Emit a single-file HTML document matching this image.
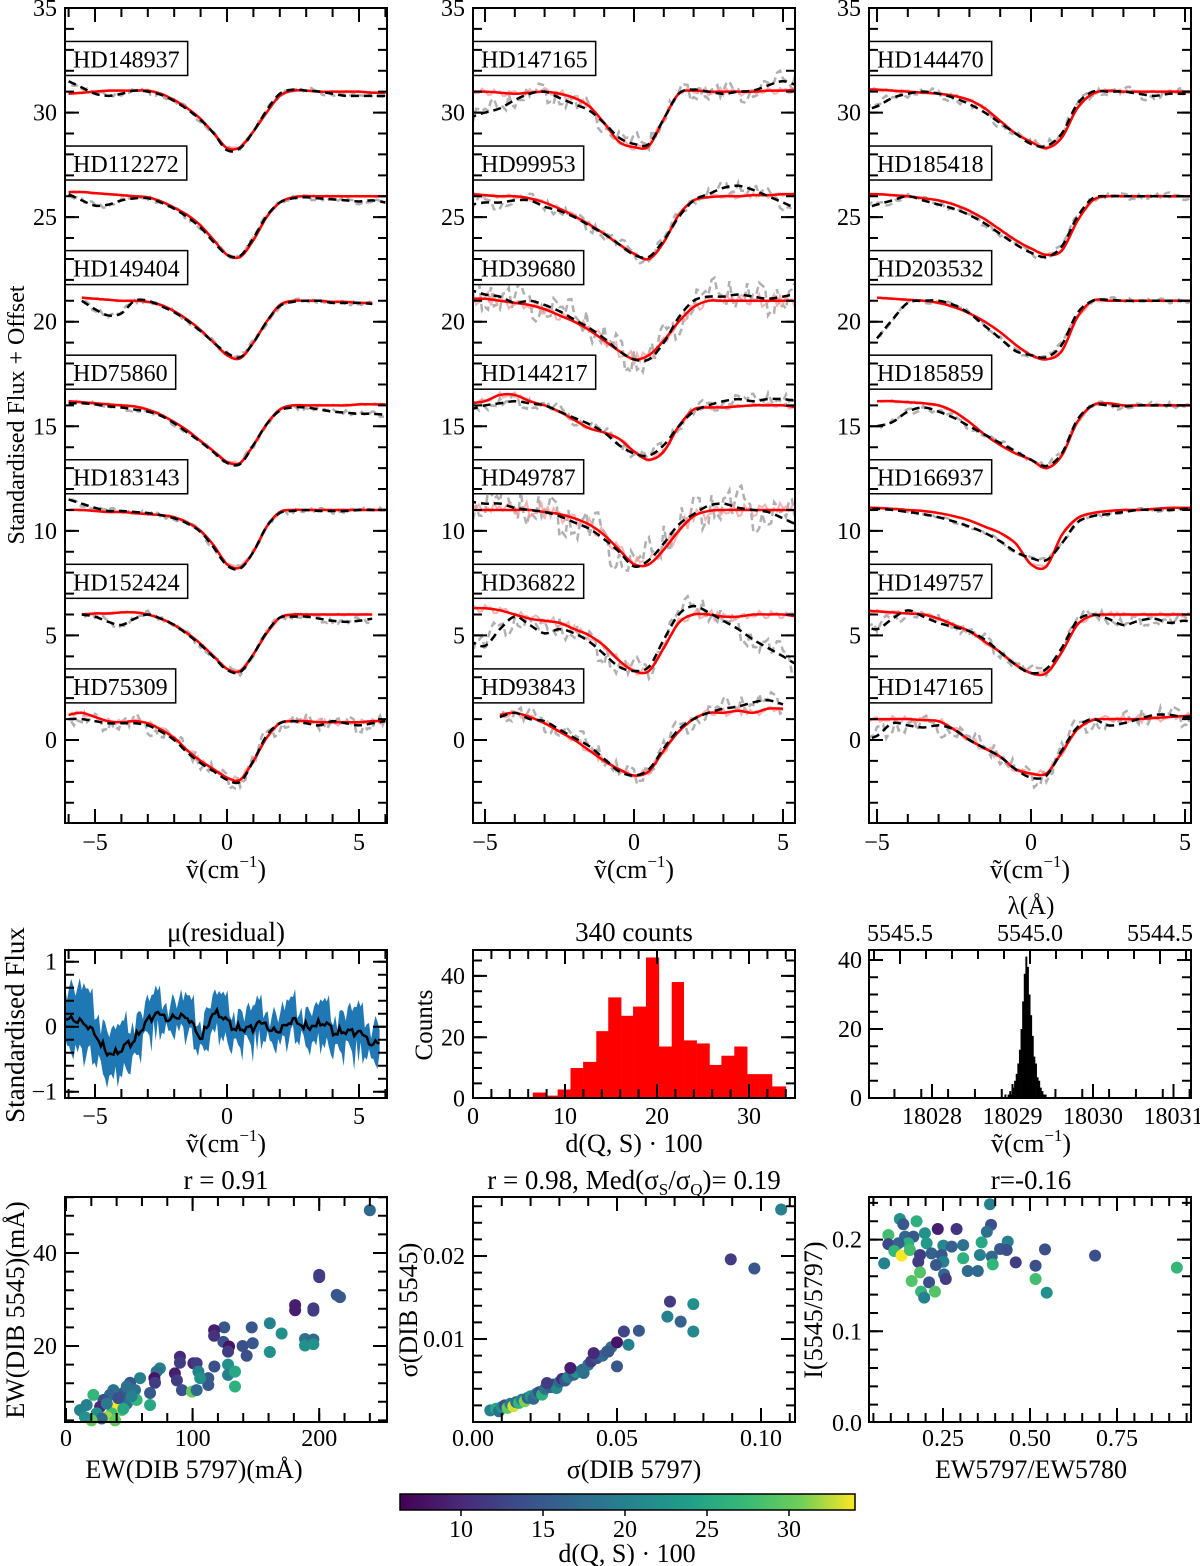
<!DOCTYPE html>
<html><head><meta charset="utf-8">
<style>
html,body{margin:0;padding:0;background:#fff;}
svg{display:block;font-family:"Liberation Serif",serif;}
</style></head>
<body>
<svg id="fig" width="1200" height="1566" viewBox="0 0 1200 1566" xmlns="http://www.w3.org/2000/svg">
<defs>
<linearGradient id="viridis" x1="0" x2="1" y1="0" y2="0">
<stop offset="0" stop-color="#440154"/><stop offset="0.13" stop-color="#482878"/><stop offset="0.25" stop-color="#3e4989"/><stop offset="0.38" stop-color="#31688e"/><stop offset="0.5" stop-color="#26828e"/><stop offset="0.63" stop-color="#1f9e89"/><stop offset="0.75" stop-color="#35b779"/><stop offset="0.88" stop-color="#6ece58"/><stop offset="1" stop-color="#fde725"/>
</linearGradient>
</defs>
</svg>
<script>
// ---------- DATA ----------
const xs=[-6,-5.5,-5,-4.5,-4,-3.5,-3,-2.5,-2,-1.5,-1,-0.5,0,0.5,1,1.5,2,2.5,3,3.5,4,4.5,5,5.5,6];
const offsets=[31,26,21,16,11,6,1];
const names1=["HD148937","HD112272","HD149404","HD75860","HD183143","HD152424","HD75309"];
const names2=["HD147165","HD99953","HD39680","HD144217","HD49787","HD36822","HD93843"];
const names3=["HD144470","HD185418","HD203532","HD185859","HD166937","HD149757","HD147165"];
const red1=[
[-0.1,-0.05,0,0.05,0.05,0.05,0.05,-0.1,-0.4,-0.8,-1.3,-2.0,-2.7,-2.65,-1.9,-1.0,-0.2,0.05,0.05,0,0,0,0,-0.05,-0.05],
[0.2,0.2,0.15,0.1,0.05,0,-0.05,-0.25,-0.55,-0.9,-1.4,-2.1,-2.8,-2.9,-2.1,-1.0,-0.3,-0.05,0,0,0,0,0,0,0],
[null,0.15,0.1,0.05,0,0,-0.05,-0.2,-0.5,-0.9,-1.4,-2.0,-2.6,-2.75,-2.0,-1.0,-0.2,0,0,0,-0.05,-0.05,-0.1,-0.1,null],
[0.2,0.15,0.1,0.05,0,-0.05,-0.2,-0.45,-0.8,-1.2,-1.7,-2.2,-2.7,-2.75,-1.9,-0.9,-0.2,0,0,0,0,0,0.05,0.05,0.05],
[0,0,-0.05,-0.1,-0.1,-0.15,-0.2,-0.25,-0.35,-0.6,-1.0,-1.7,-2.6,-2.75,-2.0,-0.8,-0.1,0,0,0,0,0,0,0,0],
[null,0,0.05,0.05,0.1,0.1,0,-0.2,-0.5,-0.9,-1.4,-2.0,-2.6,-2.7,-1.9,-0.9,-0.15,0,0,0,0,0,0,0,null],
[0.2,0.3,0.1,-0.1,-0.15,-0.1,-0.2,-0.5,-0.9,-1.5,-2.0,-2.4,-2.8,-2.9,-2.0,-0.9,-0.2,-0.1,-0.1,-0.15,-0.15,-0.15,-0.15,-0.1,-0.1]];
const black1=[
[0.5,0.2,-0.1,-0.2,-0.1,0.05,0,-0.15,-0.45,-0.85,-1.35,-2.0,-2.8,-2.7,-1.9,-0.9,-0.1,0.1,0.05,0,-0.1,-0.2,-0.2,-0.2,-0.2],
[0.1,-0.2,-0.45,-0.4,-0.2,-0.1,-0.1,-0.3,-0.6,-1.0,-1.5,-2.2,-2.8,-2.85,-2.0,-0.95,-0.3,-0.1,-0.05,-0.1,-0.15,-0.2,-0.25,-0.2,-0.3],
[null,0,-0.4,-0.7,-0.6,0,0,-0.25,-0.55,-0.95,-1.45,-2.0,-2.5,-2.7,-2.0,-1.0,-0.25,-0.05,0,0,-0.1,-0.1,-0.1,-0.15,null],
[0.1,0.1,0.05,-0.05,-0.1,-0.2,-0.3,-0.5,-0.85,-1.3,-1.75,-2.25,-2.75,-2.8,-1.9,-0.9,-0.25,-0.1,-0.1,-0.2,-0.3,-0.35,-0.4,-0.4,-0.45],
[0.5,0.3,0.1,-0.05,-0.05,-0.1,-0.15,-0.25,-0.4,-0.65,-1.05,-1.8,-2.65,-2.8,-2.0,-0.8,-0.15,-0.05,0,-0.05,-0.05,-0.05,0,0,0],
[null,0,-0.1,-0.35,-0.5,-0.2,0,-0.2,-0.5,-0.95,-1.45,-2.05,-2.65,-2.75,-1.9,-0.85,-0.15,-0.1,-0.1,-0.2,-0.3,-0.35,-0.3,-0.2,null],
[0,0,-0.1,-0.2,-0.2,-0.2,-0.3,-0.6,-1.0,-1.6,-2.1,-2.5,-2.9,-3.0,-2.0,-0.8,-0.2,-0.1,-0.2,-0.3,-0.1,-0.2,-0.3,-0.2,-0.1]];
const red2=[
[0,0,0,-0.05,-0.1,-0.05,0,-0.1,-0.3,-0.7,-1.5,-2.4,-2.65,-2.6,-1.3,-0.1,0.05,0,0,0,0,0.05,0.05,0.1,0.1],
[0.1,0.1,0.05,0,0,-0.1,-0.3,-0.6,-0.95,-1.35,-1.8,-2.3,-2.75,-3.0,-2.2,-0.9,-0.2,-0.05,0,0,0.05,0.05,0.1,0.1,0.1],
[0.1,0.1,0.1,0,-0.1,-0.2,-0.4,-0.7,-1.0,-1.4,-1.9,-2.4,-2.8,-2.6,-1.9,-1.0,-0.3,0,0,0,0,0,0,0,0],
[null,0.1,0.2,0.5,0.5,0.2,0,-0.3,-0.7,-1.1,-1.3,-1.6,-2.2,-2.6,-2.2,-1.0,-0.2,-0.1,-0.1,-0.05,0,0,0,-0.1,null],
[0,0,0,0,0,0,-0.1,-0.2,-0.4,-0.7,-1.2,-1.9,-2.6,-2.6,-1.9,-1.0,-0.3,-0.05,0,0,0,0,0,0,0],
[0.3,0.3,0.3,0.2,0,-0.2,-0.3,-0.4,-0.7,-1.0,-1.5,-2.2,-2.7,-2.7,-1.6,-0.4,0,0,-0.1,-0.1,0,0,0,-0.1,-0.1],
[null,null,null,0.2,0.3,0.1,-0.2,-0.6,-1.0,-1.5,-2.0,-2.4,-2.7,-2.5,-1.5,-0.6,0,0.3,0.3,0.4,0.3,0.5,0.5,null,null]];
const black2=[
[-1.2,-1.2,-1,-0.8,-0.4,-0.1,0,-0.3,-0.6,-0.9,-1.5,-2.2,-2.5,-2.5,-1.3,-0.1,0.1,0,-0.1,0,0.05,0.3,0.5,0.3,0.3],
[-0.4,-0.4,-0.3,-0.3,-0.2,-0.2,-0.5,-0.7,-1.0,-1.4,-1.8,-2.3,-2.8,-2.9,-2.1,-1.0,-0.2,0.1,0.4,0.5,0.3,0,-0.3,-0.6,-0.7],
[0.5,0.5,0.3,0.2,-0.1,0,-0.2,-0.5,-0.9,-1.3,-1.8,-2.4,-2.8,-2.8,-2.0,-0.8,0,0.2,0.2,0.3,0.2,0.1,0.2,0.3,0],
[null,-0.2,0,0.1,0.2,0.1,0,-0.3,-0.6,-0.9,-1.3,-1.9,-2.3,-2.4,-1.9,-1.0,-0.3,0,0.2,0.3,0.2,0.3,0.3,0.2,null],
[0.5,0.4,0.3,0.3,0.1,0,-0.1,-0.3,-0.6,-0.9,-1.4,-2.0,-2.7,-2.4,-1.6,-0.7,-0.2,0.2,0.3,0.1,0,-0.1,-0.4,-0.7,-0.7],
[-1.3,-1.3,-1.5,-0.7,-0.1,-0.5,-0.9,-0.7,-0.9,-1.3,-1.9,-2.5,-2.7,-2.5,-1.2,0,0.4,0.1,-0.3,-0.7,-1.2,-1.6,-2.0,-2.4,-2.5],
[null,null,null,0.1,0.3,0,-0.1,-0.5,-0.9,-1.3,-1.9,-2.5,-2.7,-2.4,-1.4,-0.5,0,0.3,0.5,0.6,0.8,0.9,0.7,null,null]];
const red3=[
[0.1,0.1,0.1,0.05,0,-0.05,-0.1,-0.2,-0.4,-0.8,-1.4,-2.0,-2.4,-2.7,-2.2,-0.8,-0.1,0.05,0,0,0,0,0,0,0],
[0.1,0.1,0.1,0.05,0,-0.1,-0.2,-0.4,-0.7,-1.1,-1.6,-2.1,-2.5,-2.8,-2.6,-1.2,-0.2,0,0,0,0,0,0,0,0],
[null,null,0.15,0.1,0.05,0,-0.1,-0.3,-0.6,-1.0,-1.5,-2.1,-2.6,-2.8,-2.4,-0.8,0,0,0,0,0,0,0,0,null],
[null,null,0.2,0.2,0.15,0.1,0,-0.3,-0.8,-1.4,-1.9,-2.3,-2.6,-3.0,-2.4,-0.8,0,0.1,0,0,0,0,0,0,null],
[0.1,0.1,0.1,0.05,0,-0.05,-0.15,-0.3,-0.5,-0.8,-1.1,-1.6,-2.6,-2.7,-1.2,-0.4,-0.15,-0.05,0,0,0.05,0.1,0.1,0.1,0.1],
[0.2,0.2,0.15,0.1,0.05,0,-0.2,-0.5,-0.8,-1.3,-1.8,-2.4,-2.8,-2.8,-1.8,-0.5,-0.05,0,0,0,0,0,0,0,0],
[0,0,0,0,0,-0.05,-0.1,-0.5,-1.0,-1.4,-1.8,-2.4,-2.6,-2.6,-1.6,-0.5,-0.05,0,0,0,0.05,0.1,0.15,0.15,0.15]];
const black3=[
[-0.9,-0.9,-0.7,-0.3,-0.1,0,-0.1,-0.3,-0.6,-1.0,-1.5,-2.0,-2.5,-2.6,-2.0,-0.6,0,0,0,-0.1,-0.2,-0.1,-0.1,0,0],
[-0.6,-0.6,-0.4,-0.2,0,-0.2,-0.4,-0.6,-0.9,-1.3,-1.8,-2.3,-2.7,-2.9,-2.4,-1.0,-0.1,0,0,0,0,0,0,0,0],
[null,null,-1.8,-0.9,-0.1,0,0,-0.2,-0.6,-1.2,-1.8,-2.4,-2.6,-2.7,-2.1,-0.6,0,0.05,0,0,0,0,0,0,null],
[null,null,-1.0,-0.8,-0.3,-0.1,-0.3,-0.6,-1.0,-1.4,-1.8,-2.2,-2.6,-2.9,-2.3,-0.7,0,0,-0.05,0,0,0,0,0,null],
[0.05,0.05,0.05,0,-0.1,-0.2,-0.35,-0.55,-0.8,-1.1,-1.5,-2.0,-2.3,-2.4,-1.6,-0.6,-0.3,-0.2,-0.1,0,0,0,0.05,0.1,0.1],
[-0.5,-0.5,-0.7,-0.2,0.2,-0.1,-0.4,-0.6,-0.8,-1.2,-1.8,-2.4,-2.8,-2.6,-1.6,-0.3,0,-0.2,-0.5,-0.3,-0.2,-0.4,-0.3,-0.5,-0.6],
[-1.0,-1.0,-0.8,-0.2,-0.3,-0.4,-0.3,-0.5,-1.0,-1.4,-1.8,-2.4,-2.8,-2.7,-1.5,-0.4,0,-0.3,-0.2,0,0.2,0.2,0.1,0.2,0.3]];
const noiseAmp1=[0.15,0.15,0.15,0.15,0.15,0.2,0.5];
const noiseAmp2=[0.6,0.4,1.0,0.4,1.2,0.7,0.6];
const noiseAmp3=[0.3,0.2,0.15,0.2,0.1,0.4,0.6];
const noise=[0.3,-0.5,0.8,-0.2,0.1,-0.7,0.6,0.2,-0.4,0.9,-0.6,0.1,0.4,-0.3,-0.8,0.5,0.2,-0.1,0.7,-0.5,0.3,-0.9,0.4,0.1,-0.2,0.6,-0.4,0.8,-0.7,0.2,0.0,-0.3,0.5,-0.6,0.9,-0.1,0.3,-0.4,0.6,-0.8,0.2,0.4,-0.5,0.1,0.7,-0.2,-0.6,0.3];
const resMean=[0.2,0.05,-0.15,-0.4,-0.4,-0.15,0.1,0.15,0.2,0.1,-0.2,0.25,0.05,0.0,-0.05,0.05,-0.05,0.05,0.0,0.05,-0.05,-0.05,-0.15,-0.2,-0.2];
const resSig=[0.5,0.5,0.4,0.35,0.3,0.3,0.25,0.25,0.25,0.25,0.25,0.25,0.25,0.25,0.25,0.25,0.25,0.25,0.25,0.25,0.25,0.3,0.3,0.3,0.3];
const histEdges=[6.5,7.9,9.2,10.6,11.97,13.4,14.7,16.1,17.4,18.8,20.2,21.6,22.9,24.3,25.7,27.0,28.4,29.8,31.1,32.5,34.0];
const histCounts=[2,1,3,10,12,22,33,27,30,46,17,38,19,18,11,14,17,8,8,4];
const peakStart=18028.90, peakWidth=0.02;
const peakCounts=[1,0,1,2,1,3,5,7,10,14,20,28,36,41,38,30,24,18,12,10,6,5,3,2,1,1];
const sc1=[[240,49.2,17],[200,35.3,12],[200,34.8,12],[213.8,31,15],[216.4,30.5,15],[181,28.8,9],[181,27.7,9],[195.4,28.1,12],[195.4,27.6,12],[161,24.9,20],[170.3,22.7,22],[146.7,24,15],[125,24,15],[117,23.4,9],[117,22.2,11],[124.3,20.9,14],[128.8,19.9,8],[128,18.8,12],[139.5,20,14],[147.5,20.6,15],[142.7,17.9,14],[161,18.7,22],[188.8,21.5,18],[188.8,20.1,22],[195.4,21.4,17],[195.4,20.4,22],[117.2,15.6,14],[128,16,22],[128,13.8,20],[133.5,14.5,25],[133.5,11.3,26],[112.4,13.1,15],[112.4,11.6,15],[100.6,16.3,10],[103.2,16.3,12],[90,17.7,10],[90,16.4,12],[86,14.1,9],[87.6,12.6,12],[91.6,10.5,14],[99.5,10.2,30],[103.2,10.5,17],[104.6,14.5,20],[106,13.1,22],[74.2,15.2,20],[71.6,14.5,18],[69.8,13.1,8],[70.3,12.1,12],[66.4,9.9,15],[66.4,7.3,25],[58.5,13.1,20],[50.6,12.1,15],[54.5,10.5,18],[45.3,9.9,15],[37.4,10.5,18],[34.7,9.5,17],[29.5,8.4,14],[26.9,6.9,10],[21.6,9.5,27],[16.3,7.3,20],[11.1,6.2,20],[48,7.6,18],[44,6.2,30],[40,6.9,34],[36.1,5.5,28],[32.2,4.7,32],[24.2,5.5,22],[28.2,4.4,17],[38.8,4,30],[45.3,6.5,25],[55.8,8.4,27],[51.8,9.2,20],[41.3,8.8,14],[20.2,4,30],[15,4.7,22],[32.2,7.6,19],[48,11.3,18]];
const sc2=[[0.006,0.0014,20],[0.008,0.0016,25],[0.009,0.0013,18],[0.010,0.0018,22],[0.011,0.0020,14],[0.012,0.0017,30],[0.013,0.0022,19],[0.014,0.0019,33],[0.015,0.0024,18],[0.016,0.0023,27],[0.017,0.0027,20],[0.018,0.0025,31],[0.019,0.0029,16],[0.020,0.0031,23],[0.021,0.0028,17],[0.022,0.0034,19],[0.023,0.0036,14],[0.024,0.0033,26],[0.025,0.0040,18],[0.027,0.0042,16],[0.028,0.0045,12],[0.029,0.0041,21],[0.030,0.0048,17],[0.031,0.0052,10],[0.032,0.0050,15],[0.033,0.0054,20],[0.035,0.0057,16],[0.036,0.0060,22],[0.038,0.0063,17],[0.040,0.0069,18],[0.041,0.0073,12],[0.043,0.0077,14],[0.045,0.0080,17],[0.048,0.0090,18],[0.047,0.0085,15],[0.107,0.0256,20],[0.0895,0.0196,12],[0.0977,0.0185,15],[0.0684,0.0145,12],[0.0765,0.0142,22],[0.0675,0.0127,20],[0.0721,0.0121,16],[0.0765,0.0109,21],[0.0576,0.0110,15],[0.0524,0.0109,13],[0.050,0.0096,8],[0.054,0.0093,20],[0.0466,0.0085,15],[0.050,0.0067,15],[0.0419,0.0083,10],[0.0338,0.0065,9],[0.0384,0.0059,18],[0.0257,0.0047,12]];
const sc3=[[0.385,0.2385,20],[0.126,0.2225,22],[0.136,0.2167,15],[0.174,0.220,26],[0.235,0.2116,9],[0.289,0.2116,11],[0.388,0.216,14],[0.376,0.2086,18],[0.093,0.205,28],[0.093,0.195,13],[0.198,0.2069,22],[0.141,0.2032,17],[0.165,0.2032,15],[0.203,0.196,23],[0.150,0.196,26],[0.122,0.196,16],[0.251,0.1934,21],[0.275,0.1923,16],[0.308,0.194,18],[0.361,0.197,25],[0.436,0.1978,20],[0.414,0.1898,15],[0.433,0.1887,14],[0.543,0.1894,14],[0.687,0.1825,14],[0.110,0.1876,27],[0.131,0.1825,34],[0.155,0.1887,28],[0.184,0.1832,12],[0.217,0.185,16],[0.246,0.1832,15],[0.308,0.1796,26],[0.356,0.1832,20],[0.390,0.1814,17],[0.081,0.1741,20],[0.179,0.1759,12],[0.251,0.1759,20],[0.230,0.1723,15],[0.393,0.173,27],[0.459,0.1752,12],[0.516,0.1715,14],[0.922,0.1694,27],[0.184,0.1643,29],[0.321,0.1657,17],[0.350,0.1657,17],[0.253,0.1621,17],[0.258,0.157,12],[0.210,0.1534,14],[0.160,0.1549,29],[0.516,0.157,28],[0.187,0.1432,27],[0.227,0.1432,29],[0.196,0.1367,20],[0.548,0.1421,22]];
const cbTicks=[10,15,20,25,30];

// ---------- HELPERS ----------
const NS='http://www.w3.org/2000/svg';
const svg=document.getElementById('fig');
function mk(tag,attrs,parent){const e=document.createElementNS(NS,tag);for(const k in attrs)e.setAttribute(k,attrs[k]);(parent||svg).appendChild(e);return e;}
function lin(d0,d1,r0,r1){return v=>r0+(v-d0)*(r1-r0)/(d1-d0);}
function fmtNum(v){return String(v).replace('-','−');}
function label(x,y,s,anchor,size,name,rot){
  const t=mk('text',{x:x,y:y,'text-anchor':anchor||'middle','font-size':size||24,fill:'#000'});
  if(rot)t.setAttribute('transform','rotate(-90 '+x+' '+y+')');
  t.innerHTML=s;
  
  
  return t;
}
const NU='ṽ(cm<tspan dy="-11" font-size="17">−1</tspan><tspan dy="11">)</tspan>';
let clipId=0;
function panel(name,x0,y0,w,h){
  const g=mk('g',{});
  
  
  const cp=mk('clipPath',{id:'c'+(++clipId)},svg.querySelector('defs'));
  mk('rect',{x:x0,y:y0,width:w,height:h},cp);
  const inner=mk('g',{'clip-path':'url(#c'+clipId+')'},g);
  return {g:g,inner:inner,x0:x0,y0:y0,w:w,h:h};
}
function frame(P){
  const r=mk('rect',{x:P.x0,y:P.y0,width:P.w,height:P.h,fill:'none',stroke:'#000','stroke-width':2},P.g);
  
  
}
function ticksX(P,X,vals,len,bottom,top){
  let d='';
  vals.forEach(v=>{const x=X(v);if(x<P.x0-0.5||x>P.x0+P.w+0.5)return;
    if(bottom)d+='M'+x+' '+(P.y0+P.h)+'v'+(-len);
    if(top)d+='M'+x+' '+P.y0+'v'+len;});
  const p=mk('path',{d:d,stroke:'#000','stroke-width':2,fill:'none'},P.g);
  
  
}
function ticksY(P,Y,vals,len){
  let d='';
  vals.forEach(v=>{const y=Y(v);if(y<P.y0-0.5||y>P.y0+P.h+0.5)return;
    d+='M'+P.x0+' '+y+'h'+len+'M'+(P.x0+P.w)+' '+y+'h'+(-len);});
  const p=mk('path',{d:d,stroke:'#000','stroke-width':2,fill:'none'},P.g);
  
  
}
function range(a,b,s){const r=[];for(let v=a;v<=b+1e-9;v+=s)r.push(Math.round(v*1e6)/1e6);return r;}
function smoothPath(pts){
  let d='';let seg=[];
  const flush=()=>{if(seg.length>1){d+='M'+seg[0][0]+' '+seg[0][1];
    for(let i=0;i<seg.length-1;i++){const p0=seg[Math.max(0,i-1)],p1=seg[i],p2=seg[i+1],p3=seg[Math.min(seg.length-1,i+2)];
      d+='C'+(p1[0]+(p2[0]-p0[0])/6)+' '+(p1[1]+(p2[1]-p0[1])/6)+' '+(p2[0]-(p3[0]-p1[0])/6)+' '+(p2[1]-(p3[1]-p1[1])/6)+' '+p2[0]+' '+p2[1];}}
    seg=[];};
  pts.forEach(p=>{if(p)seg.push(p);else flush();});flush();return d;
}
function interp(arr,x){
  const f=(x-xs[0])/0.5;const i=Math.floor(f);if(i<0||i>=arr.length-1)return (i===arr.length-1&&arr[i]!=null)?arr[i]:null;
  const a=arr[i],b=arr[i+1];if(a==null||b==null)return null;return a+(b-a)*(f-i);
}
function interpClamp(arr,x){return interp(arr,Math.max(-6,Math.min(6,x)));}
function viridis(d){
  const t=Math.max(0,Math.min(1,(d-6.3)/(34-6.3)));
  const st=[[0,[68,1,84]],[0.13,[72,40,120]],[0.25,[62,73,137]],[0.38,[49,104,142]],[0.5,[38,130,142]],[0.63,[31,158,137]],[0.75,[53,183,121]],[0.88,[110,206,88]],[1,[253,231,37]]];
  for(let i=0;i<st.length-1;i++){if(t<=st[i+1][0]){const u=(t-st[i][0])/(st[i+1][0]-st[i][0]);const c=st[i][1].map((v,k)=>Math.round(v+(st[i+1][1][k]-v)*u));return 'rgb('+c.join(',')+')';}}
  return 'rgb(253,231,37)';
}

// ---------- TOP ROW: SPECTRA ----------
const colX=[65,473,869];
const specDefs=[
 {X:lin(0,5,227,359),names:names1,red:red1,black:black1,amp:noiseAmp1},
 {X:lin(0,5,634,783),names:names2,red:red2,black:black2,amp:noiseAmp2},
 {X:lin(0,5,1031,1185),names:names3,red:red3,black:black3,amp:noiseAmp3}];
const Ys=lin(0,35,740,8);
specDefs.forEach((S,c)=>{
  const P=panel('spectra-panel-'+(c+1),colX[c],8,322,815);
  S.names.forEach((nm,k)=>{
    const off=offsets[k];
    let gp=[],pp=[];
    let i=0;
    for(let x=-6.2;x<=6.2;x+=0.1,i++){
      const b=interp(S.black[k],x),r=interp(S.red[k],x);
      gp.push(b==null?null:[S.X(x),Ys(off+b+noise[(i*7+k*5)%48]*S.amp[k])]);
      pp.push(r==null?null:[S.X(x),Ys(off+r+noise[(i*5+k*3+11)%48]*S.amp[k]*0.35)]);
    }
    const lineD=pts=>{let d='',pen=false;pts.forEach(p=>{if(!p){pen=false;return;}d+=(pen?'L':'M')+p[0].toFixed(1)+' '+p[1].toFixed(1);pen=true;});return d;};
    const g1=mk('path',{d:lineD(gp),fill:'none',stroke:'#b0b0b0','stroke-width':2.5,'stroke-dasharray':'7,4'},P.inner);
    
    
    const g2=mk('path',{d:lineD(pp),fill:'none',stroke:'#f4a0a0','stroke-width':2,opacity:0.8},P.inner);
    
    
    const rp=xs.map((x,j)=>S.red[k][j]==null?null:[S.X(x),Ys(off+S.red[k][j])]);
    const bp=xs.map((x,j)=>S.black[k][j]==null?null:[S.X(x),Ys(off+S.black[k][j])]);
    const r1=mk('path',{d:smoothPath(rp),fill:'none',stroke:'#ff0000','stroke-width':2.5},P.inner);
    
    
    const b1=mk('path',{d:smoothPath(bp),fill:'none',stroke:'#000','stroke-width':2.5,'stroke-dasharray':'8,5'},P.inner);
    
    
    const by=Ys(off+2.4);
    const t=mk('text',{x:P.x0+8,y:by+26,'font-size':24,fill:'#000'},P.g);
    t.textContent=nm;
    
    
    const tw=t.getComputedTextLength();
    const bx=mk('rect',{x:P.x0,y:by,width:tw+16,height:34,fill:'#fff',stroke:'#000','stroke-width':1.5},P.g);
    
    
    P.g.appendChild(t);
  });
  frame(P);
  ticksX(P,S.X,range(-6,6,1),9,true,true);
  ticksX(P,S.X,[-5,0,5],14,true,true);
  ticksY(P,Ys,range(-4,35,1),9);
  ticksY(P,Ys,range(0,35,5),14);
  [-5,0,5].forEach(v=>label(S.X(v),850,fmtNum(v),'middle',24,'x-tick-label'));
  range(0,35,5).forEach(v=>label(colX[c]-8,Ys(v)+8,String(v),'end',24,'y-tick-label'));
  label(colX[c]+161,878,NU,'middle',26,'x-axis-title');
});
label(24,415,'Standardised Flux + Offset','middle',24,'y-axis-title',true);

// ---------- MIDDLE ROW ----------
{
  const P=panel('residual-panel',65,950,322,148);
  const X=lin(0,5,227,359),Y=lin(0,1,1026.7,961.7);
  let up=[],lo=[],mn=[];let i=0;
  for(let x=-6.3;x<=5.8;x+=0.08,i++){
    const m=interpClamp(resMean,x)+noise[(i*7)%48]*0.1,s=interpClamp(resSig,x);
    mn.push([X(x),Y(m)]);up.push([X(x),Y(m+s+noise[(i*3+5)%48]*0.25)]);lo.push([X(x),Y(m-s-noise[(i*5+11)%48]*0.25)]);
  }
  const band=mk('path',{d:'M'+up.map(p=>p[0].toFixed(1)+' '+p[1].toFixed(1)).join('L')+'L'+lo.reverse().map(p=>p[0].toFixed(1)+' '+p[1].toFixed(1)).join('L')+'Z',fill:'#1f77b4'},P.inner);
  
  
  const ml=mk('path',{d:'M'+mn.map(p=>p[0].toFixed(1)+' '+p[1].toFixed(1)).join('L'),fill:'none',stroke:'#000','stroke-width':2.5},P.inner);
  
  
  frame(P);
  ticksX(P,X,range(-6,6,1),9,true,true);ticksX(P,X,[-5,0,5],14,true,true);
  ticksY(P,Y,range(-1,1,0.2),9);ticksY(P,Y,[-1,0,1],14);
  [-5,0,5].forEach(v=>label(X(v),1124,fmtNum(v),'middle',24,'x-tick-label'));
  [-1,0,1].forEach(v=>label(57,Y(v)+8,fmtNum(v),'end',24,'y-tick-label'));
  label(226,941,'μ(residual)','middle',27,'panel-title');
  label(226,1152,NU,'middle',26,'x-axis-title');
  label(24,1025,'Standardised Flux','middle',27,'y-axis-title',true);
}
{
  const P=panel('distance-histogram',473,950,322,148);
  const X=lin(0,10,473,565),Y=lin(0,40,1098.7,975.9);
  histCounts.forEach((c,i)=>{
    const r=mk('rect',{x:X(histEdges[i]),y:Y(c),width:X(histEdges[i+1])-X(histEdges[i])+0.3,height:Y(0)-Y(c),fill:'#ff0000'},P.inner);
    
    
  });
  frame(P);
  ticksX(P,X,range(0,34,2),9,true,true);ticksX(P,X,[0,10,20,30],14,true,true);
  ticksY(P,Y,range(0,45,5),9);ticksY(P,Y,[0,20,40],14);
  [0,10,20,30].forEach(v=>label(X(v),1124,String(v),'middle',24,'x-tick-label'));
  [0,20,40].forEach(v=>label(465,Y(v)+8,String(v),'end',24,'y-tick-label'));
  label(634,941,'340 counts','middle',27,'panel-title');
  label(634,1152,'d(Q, S) · 100','middle',26,'x-axis-title');
  label(432,1025,'Counts','middle',25,'y-axis-title',true);
}
{
  const P=panel('wavenumber-histogram',869,950,322,148);
  const X=lin(18028,18029,932,1012.5),Y=lin(0,20,1098,1029);
  const L=lin(5545.0,5545.5,1030,900);
  peakCounts.forEach((c,i)=>{
    const x0=peakStart+i*peakWidth;
    const r=mk('rect',{x:X(x0),y:Y(c),width:X(x0+peakWidth)-X(x0)+0.3,height:Y(0)-Y(c),fill:'#000'},P.inner);
    
    
  });
  frame(P);
  ticksX(P,X,range(18027.2,18031.2,1/3),9,true,false);ticksX(P,X,[18028,18029,18030,18031],14,true,false);
  ticksX(P,L,range(5544.4,5545.8,0.1),9,false,true);ticksX(P,L,[5544.5,5545.0,5545.5],14,false,true);
  ticksY(P,Y,range(0,45,5),9);ticksY(P,Y,[0,20,40],14);
  [18028,18029,18030,18031].forEach(v=>label(X(v),1124,String(v),'middle',24,'x-tick-label'));
  [['5545.5',5545.5],['5545.0',5545.0],['5544.5',5544.5]].forEach(a=>label(L(a[1]),941,a[0],'middle',24,'top-tick-label'));
  [0,20,40].forEach(v=>label(862,Y(v)+8,String(v),'end',24,'y-tick-label'));
  label(1031,914,'λ(Å)','middle',25,'top-axis-title');
  label(1031,1152,NU,'middle',26,'x-axis-title');
}

// ---------- BOTTOM ROW: SCATTERS ----------
function scatter(name,x0,X,Y,pts){
  const P=panel(name,x0,1197,322,225);
  pts.forEach(p=>{
    const c=mk('circle',{cx:X(p[0]),cy:Y(p[1]),r:6,fill:viridis(p[2])},P.g);
    
    
  });
  return P;
}
{
  const X=lin(0,100,66,192.6),Y=lin(0,20,1439,1346);
  const P=scatter('ew-scatter',65,X,Y,sc1);
  frame(P);
  ticksX(P,X,range(0,250,20),9,true,true);ticksX(P,X,[0,100,200],14,true,true);
  ticksY(P,Y,range(4,52,4),9);ticksY(P,Y,[20,40],14);
  [0,100,200].forEach(v=>label(X(v),1446,String(v),'middle',24,'x-tick-label'));
  [20,40].forEach(v=>label(57,Y(v)+8,String(v),'end',24,'y-tick-label'));
  label(226,1189,'r =  0.91','middle',27,'panel-title');
  label(194,1478,'EW(DIB 5797)(mÅ)','middle',26,'x-axis-title');
  label(24,1310,'EW(DIB 5545)(mÅ)','middle',26,'y-axis-title',true);
}
{
  const X=lin(0,0.05,473,617),Y=lin(0,0.01,1422,1339);
  const P=scatter('sigma-scatter',473,X,Y,sc2);
  frame(P);
  ticksX(P,X,range(0,0.11,0.01),9,true,true);ticksX(P,X,[0,0.05,0.1],14,true,true);
  ticksY(P,Y,range(0,0.026,0.002),9);ticksY(P,Y,[0.01,0.02],14);
  [['0.00',0],['0.05',0.05],['0.10',0.1]].forEach(a=>label(X(a[1]),1446,a[0],'middle',24,'x-tick-label'));
  [['0.01',0.01],['0.02',0.02]].forEach(a=>label(465,Y(a[1])+8,a[0],'end',24,'y-tick-label'));
  label(634,1189,'r =  0.98, Med(σ<tspan font-size="17" dy="6">S</tspan><tspan dy="-6">/σ</tspan><tspan font-size="17" dy="6">Q</tspan><tspan dy="-6">)= 0.19</tspan>','middle',27,'panel-title');
  label(634,1478,'σ(DIB 5797)','middle',26,'x-axis-title');
  label(417,1310,'σ(DIB 5545)','middle',26,'y-axis-title',true);
}
{
  const X=lin(0.25,0.75,943,1117),Y=lin(0,0.1,1423,1331.3);
  const P=scatter('ratio-scatter',869,X,Y,sc3);
  frame(P);
  ticksX(P,X,range(0.05,0.95,0.05),9,true,true);ticksX(P,X,[0.25,0.5,0.75],14,true,true);
  ticksY(P,Y,range(0,0.24,0.02),9);ticksY(P,Y,[0,0.1,0.2],14);
  [['0.25',0.25],['0.50',0.5],['0.75',0.75]].forEach(a=>label(X(a[1]),1446,a[0],'middle',24,'x-tick-label'));
  [['0.0',0],['0.1',0.1],['0.2',0.2]].forEach(a=>label(862,Y(a[1])+8,a[0],'end',24,'y-tick-label'));
  label(1031,1189,'r=-0.16','middle',27,'panel-title');
  label(1031,1478,'EW5797/EW5780','middle',26,'x-axis-title');
  label(822,1310,'I(5545/5797)','middle',26,'y-axis-title',true);
}

// ---------- COLORBAR ----------
{
  const g=mk('g',{});
  
  
  const X=lin(10,30,461,789);
  const r=mk('rect',{x:400,y:1494,width:455,height:16,fill:'url(#viridis)',stroke:'#000','stroke-width':1.5},g);
  
  
  let d='';cbTicks.forEach(v=>{d+='M'+X(v)+' 1510v6';});
  const tp=mk('path',{d:d,stroke:'#000','stroke-width':1.5},g);
  
  
  cbTicks.forEach(v=>label(X(v),1537,String(v),'middle',24,'colorbar-tick-label'));
  label(627,1562,'d(Q, S) · 100','middle',26,'colorbar-title');
}
</script>
</body></html>
